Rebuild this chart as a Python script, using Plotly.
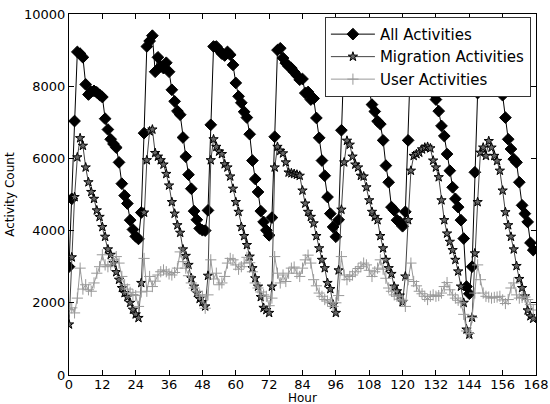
import plotly.graph_objects as go

all_activities = [
    3000, 4880, 7035, 8950, 8900, 8800, 8050, 7770, 7850, 7870, 7830, 7760, 7700, 7100, 6800, 6530, 6400, 6300, 5890, 5300, 4970, 4750, 4290, 4030, 3840, 3770,
    4500, 6700, 9100, 9250, 9400, 8400, 8800, 8550, 8500, 8650, 8400, 7900, 7580, 7310, 7210, 6580, 6050, 5550, 5160, 4540, 4300, 4060,
    4010, 4000, 4560, 6930, 9100, 9100, 9000, 8900, 8850, 8950, 8870, 8590, 8090, 7720, 7540, 7290, 7130, 6670, 5940, 5430, 5070, 4540, 4240, 4010,
    3870, 4360, 6600, 9000, 9050, 8780, 8640, 8550, 8500, 8390, 8300, 8180, 8200, 7810, 7840, 7630, 7660, 7120, 6570, 5940, 5520, 4930, 4470, 4100,
    3830, 4300, 6780, 9000, 9100, 8900, 8800, 8700, 8600, 8400, 8300, 8100, 7900, 7490, 7300, 7030, 6950, 6500, 5800, 5340, 4650, 4560, 4290, 4240,
    4120, 4520, 6500, 9000, 9100, 9000, 8800, 8600, 8400, 8200, 8000, 7800, 7630, 7310, 6900, 6620, 6120, 5660, 5200, 4880, 4650, 4290, 3780, 2450,
    2250, 3000, 5615, 7810, 8600, 8900, 8900, 8700, 8500, 8200, 8000, 7900, 7750, 7130, 6530, 6260, 5980, 5890, 5340, 4700, 4470, 4240, 3660, 3460,
]

migration_activities = [
    1400, 3260, 4930, 6030, 6560, 6350, 5750, 5340, 5070, 4880, 4560, 4380, 4100, 3830, 3480, 3330, 3100, 2850, 2640, 2410, 2270, 2160, 2000, 1810, 1680, 1580,
    2550, 4500, 5950, 6750, 6800, 6150, 6050, 5950, 5830, 5570, 5250, 4790, 4470, 4150, 3940, 3480, 3300, 3050, 2680, 2450, 2270, 2110,
    2020, 1900, 2750, 5950, 6530, 6320, 6190, 6120, 5840, 5750, 5500, 5160, 4790, 4520, 4100, 3850, 3600, 3280, 2960, 2680, 2450, 2160, 1860, 1800,
    1720, 2450, 5750, 6320, 6210, 6140, 5890, 5610, 5590, 5570, 5550, 5520, 5110, 4750, 4520, 4380, 4200, 3850, 3510, 3190, 2960, 2550, 2380, 1950,
    1720, 2900, 4580, 5890, 6490, 6380, 6050, 5830, 5750, 5520, 5500, 5200, 4840, 4520, 4380, 4290, 3850, 3510, 3190, 2960, 2800, 2450, 2320, 2200,
    2020, 2730, 4290, 5660, 6070, 6120, 6160, 6250, 6300, 6320, 6280, 5940, 5750, 5480, 4840, 4290, 3920, 3690, 3460, 3190, 2870, 2450, 2000, 1260,
    1120, 1590, 3370, 4790, 6160, 6300, 6070, 6480, 6300, 6070, 5930, 5660, 5110, 4510, 4150, 3830, 3480, 3020, 2660, 2410, 2180, 1790, 1630, 1560,
]

user_activities = [
    1810, 1860, 1720, 2130, 2960, 2380, 2500, 2360, 2320, 2550, 2820, 3000, 3330, 3050, 3000, 3050, 3190, 3280, 3100, 2730, 2500, 2380, 2290, 2230, 2200, 1900,
    2300, 3230, 2320, 2730, 2450, 2600, 2770, 2860, 2910, 2860, 2800, 2770, 2840, 2960, 3410, 3140, 2960, 2750, 2550, 2410, 2320, 2220,
    2180, 1850, 2220, 3190, 2660, 2820, 2500, 2550, 2730, 3100, 3230, 3190, 3050, 2930, 3000, 3100, 3260, 3110, 2860, 2550, 2410, 2300, 2220, 2180,
    1920, 2130, 3280, 2820, 2550, 2770, 2590, 2820, 2960, 2990, 2820, 2730, 2960, 3190, 3320, 3100, 2640, 2470, 2270, 2180, 2090, 2050, 2000, 1900,
    2000, 2200, 3280, 2770, 2640, 2730, 2770, 2860, 2950, 3000, 3100, 3050, 2900, 2730, 2860, 2960, 3190, 2930, 2680, 2410, 2320, 2220, 2180, 2100,
    2070, 1900, 2640, 3100, 2590, 2470, 2320, 2250, 2180, 2090, 2180, 2220, 2180, 2200, 2270, 2450, 2560, 2360, 2220, 2130, 2070, 2000, 1680, 1220,
    1150, 1590, 2270, 3050, 2640, 2270, 2180, 2160, 2130, 2150, 2160, 2180, 2080, 1980, 2090, 2410, 2550, 2220, 2130, 2150, 2160, 2090, 1950, 1800,
]

x_ticks = [0, 12, 24, 36, 48, 60, 72, 84, 96, 108, 120, 132, 144, 156, 168]
y_ticks = [0, 2000, 4000, 6000, 8000, 10000]

hours_all = list(range(len(all_activities)))
hours_mig = list(range(len(migration_activities)))
hours_usr = list(range(len(user_activities)))

fig = go.Figure()
fig.add_trace(go.Scatter(
    x=hours_all, y=all_activities, name="All Activities", mode="lines+markers",
    line=dict(color="black", width=1),
    marker=dict(symbol="diamond", size=9, color="black", line=dict(color="black", width=1)),
))
fig.add_trace(go.Scatter(
    x=hours_mig, y=migration_activities, name="Migration Activities", mode="lines+markers",
    line=dict(color="#444444", width=1),
    marker=dict(symbol="star", size=7, color="#666666", line=dict(color="black", width=1)),
))
fig.add_trace(go.Scatter(
    x=hours_usr, y=user_activities, name="User Activities", mode="lines+markers",
    line=dict(color="#999999", width=1),
    marker=dict(symbol="cross-thin", size=8, color="#999999", line=dict(color="#999999", width=1)),
))

axis_common = dict(
    showgrid=False, zeroline=False, showline=True, linecolor="black", linewidth=1,
    mirror="ticks", ticks="inside", ticklen=5, tickcolor="black", tickwidth=1,
    tickfont=dict(family="DejaVu Sans", size=13, color="black"),
    automargin=False,
)

fig.update_layout(
    width=550, height=404,
    margin=dict(l=69, r=14, t=14, b=29),
    paper_bgcolor="white", plot_bgcolor="white",
    font=dict(family="DejaVu Sans", color="black"),
    xaxis=dict(range=[0, 168], tickvals=x_ticks, ticktext=[str(t) for t in x_ticks],
               ticklabelstandoff=-3, **axis_common),
    yaxis=dict(range=[0, 10000], tickvals=y_ticks, ticktext=[str(t) for t in y_ticks], **axis_common),
    legend=dict(
        x=0.548, y=0.992, xanchor="left", yanchor="top",
        bgcolor="white", bordercolor="#333333", borderwidth=1,
        font=dict(family="DejaVu Sans", size=15, color="black"),
        tracegroupgap=0, itemwidth=44,
    ),
    annotations=[
        dict(text="Hour", x=0.5, y=-0.0637, xref="paper", yref="paper",
             xanchor="center", yanchor="middle", showarrow=False,
             font=dict(family="DejaVu Sans", size=12, color="black")),
        dict(text="Activity Count", x=-0.128, y=0.5, xref="paper", yref="paper",
             xanchor="center", yanchor="middle", showarrow=False, textangle=-90,
             font=dict(family="DejaVu Sans", size=12, color="black")),
    ],
    showlegend=True,
)

fig.write_html("out.html")
